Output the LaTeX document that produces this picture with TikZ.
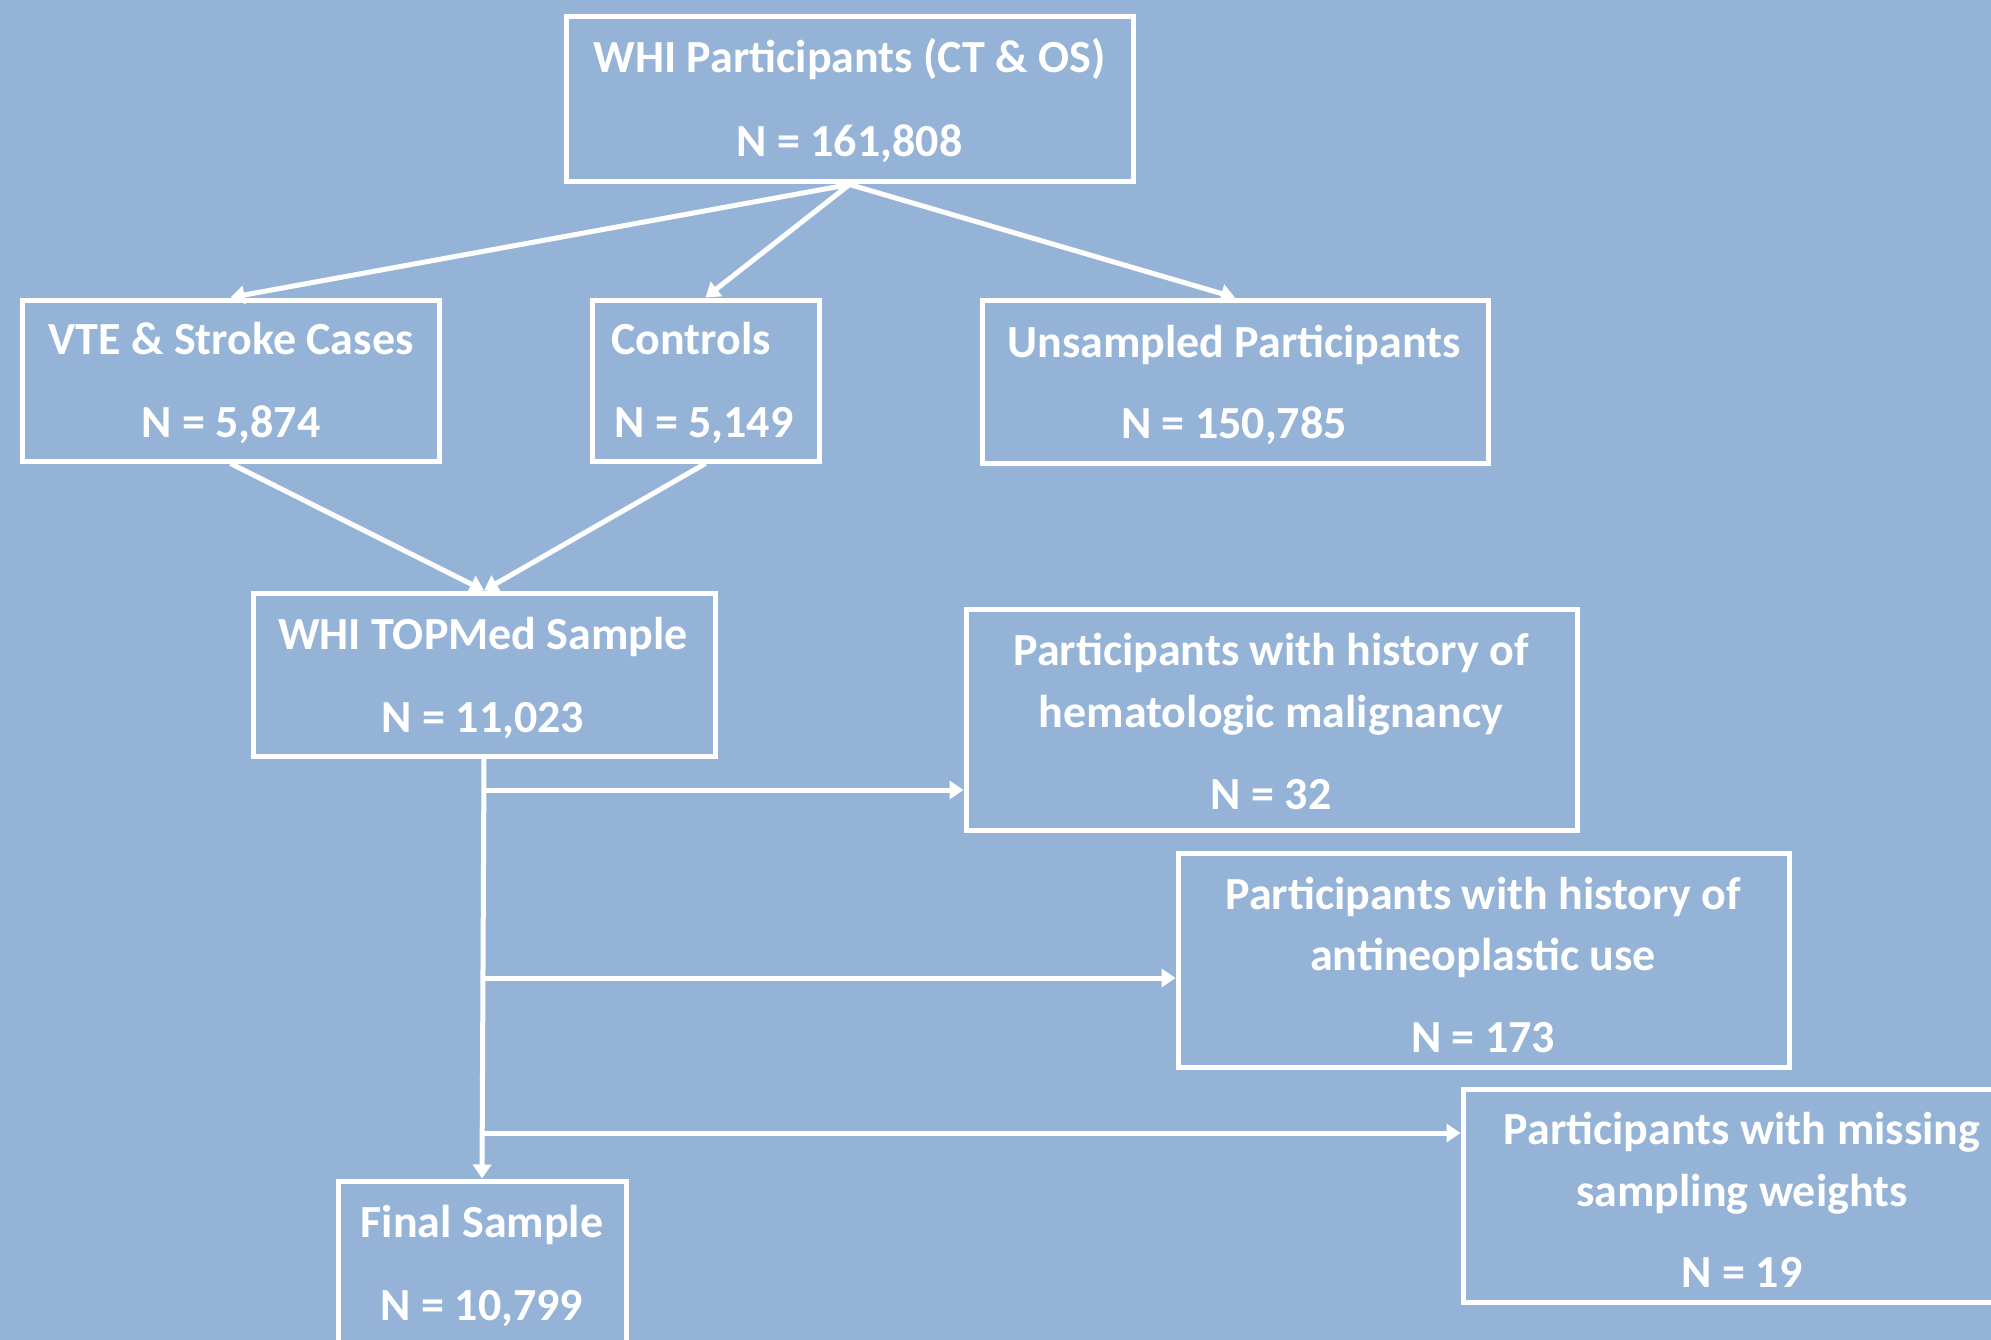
\documentclass[tikz,border=0pt]{standalone}
\usepackage{fontspec}
\setmainfont{Carlito}
\usetikzlibrary{arrows.meta,calc}
\definecolor{bg}{RGB}{149,179,215}
\begin{document}
\begin{tikzpicture}[x=1pt,y=-1pt,
  box/.style={draw=white, line width=5pt, inner sep=0pt},
  lbl/.style={text=white, font=\fontsize{46}{50}\selectfont\bfseries, anchor=base, inner sep=0pt},
  arr/.style={draw=white, line width=5pt, -{Triangle[width=18pt,length=14pt]}}]
\useasboundingbox (0,0) rectangle (1991,1340);
\clip (0,0) rectangle (1991,1340);
\fill[bg] (0,0) rectangle (1991,1340);

% boxes
\node[box, minimum width=567pt, minimum height=165pt] (top) at (849.5,99.5) {};
\node[box, minimum width=417pt, minimum height=161pt] (vte) at (230.5,380.5) {};
\node[box, minimum width=227pt, minimum height=161pt] (ctrl) at (705.5,380.5) {};
\node[box, minimum width=506pt, minimum height=163pt] (uns) at (1235,381.5) {};
\node[box, minimum width=462pt, minimum height=163pt] (tm) at (484,674.5) {};
\node[box, minimum width=611pt, minimum height=221pt] (hem) at (1271.5,719.5) {};
\node[box, minimum width=611pt, minimum height=214pt] (anti) at (1483.5,960) {};
\node[box, minimum width=547pt, minimum height=213pt] (miss) at (1736.5,1195.5) {};
\node[box, minimum width=288pt, minimum height=179pt] (fin) at (482,1270.5) {};

% labels
\node[lbl] (t1) at (849.5,73) {WHI Participants (CT \& OS)};
\node[lbl] (t2) at (849.5,157) {N = 161,808};
\node[lbl] (v1) at (231,354) {VTE \& Stroke Cases};
\node[lbl] (v2) at (231,437) {N = 5,874};
\node[lbl, anchor=base west] (c1) at (611,354) {Controls};
\node[lbl] (c2) at (704,437) {N = 5,149};
\node[lbl] (u1) at (1234,357) {Unsampled Participants};
\node[lbl] (u2) at (1234,438) {N = 150,785};
\node[lbl] (m1) at (483,649) {WHI TOPMed Sample};
\node[lbl] (m2) at (483,732) {N = 11,023};
\node[lbl] (h1) at (1271,665) {Participants with history of};
\node[lbl] (h2) at (1271,727) {hematologic malignancy};
\node[lbl] (h3) at (1271,809) {N = 32};
\node[lbl] (a1) at (1483,909) {Participants with history of};
\node[lbl] (a2) at (1483,970) {antineoplastic use};
\node[lbl] (a3) at (1483,1052) {N = 173};
\node[lbl] (s1) at (1742,1144) {Participants with missing};
\node[lbl] (s2) at (1742,1206) {sampling weights};
\node[lbl] (s3) at (1742,1287) {N = 19};
\node[lbl] (f1) at (482,1237) {Final Sample};
\node[lbl] (f2) at (482,1320) {N = 10,799};

% connectors
\draw[arr] (top.south) -- (vte.north);
\draw[arr] (top.south) -- (ctrl.north);
\draw[arr] (top.south) -- (uns.north);
\draw[arr] (vte.south) -- (tm.north);
\draw[arr] (ctrl.south) -- (tm.north);
\draw[arr] (tm.south) -- (fin.north);
\coordinate (b1) at (484,790);
\coordinate (b2) at (483,978);
\coordinate (b3) at (482,1133);
\draw[arr] (b1) -- (b1 -| hem.west);
\draw[arr] (b2) -- (b2 -| anti.west);
\draw[arr] (b3) -- (b3 -| miss.west);
\end{tikzpicture}
\end{document}
